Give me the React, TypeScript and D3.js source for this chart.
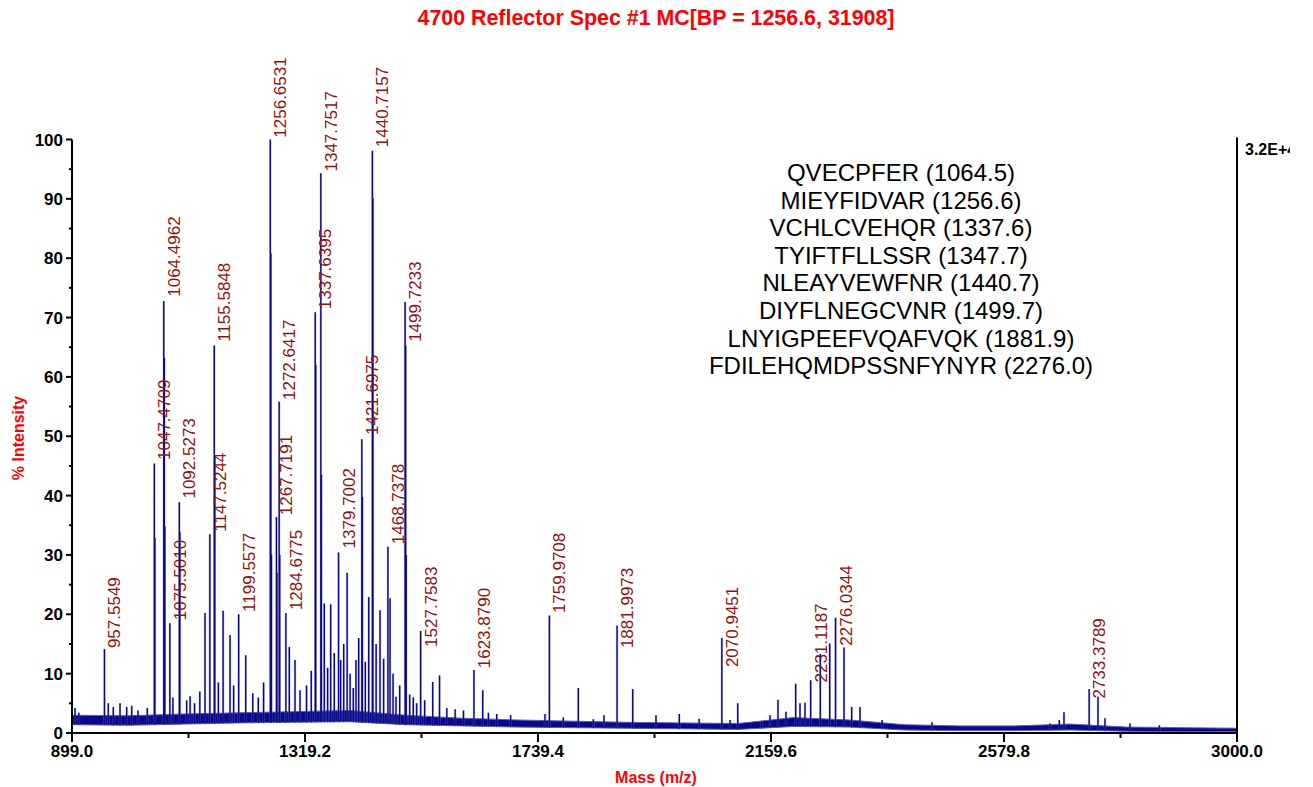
import * as d3 from "d3";

const title = "4700 Reflector Spec #1 MC[BP = 1256.6, 31908]";
const xAxisTitle = "Mass (m/z)";
const yAxisTitle = "% Intensity";
const scaleLabel = "3.2E+4";

const xTickValues = [899.0, 1319.2, 1739.4, 2159.6, 2579.8, 3000.0];
const xMinorTickValues = [1109.1, 1529.3, 1949.5, 2369.7, 2789.9];
const yTickValues = [0, 10, 20, 30, 40, 50, 60, 70, 80, 90, 100];
const yMinorTickValues = [5, 15, 25, 35, 45, 55, 65, 75, 85, 95];

// profile maxima (m/z, % intensity)
const peakMasses = [
  904.4, 911.5, 957.55, 964.5, 973.5, 985.6, 997.6, 1006.7, 1018.0, 1034.8,
  1047.47, 1048.47, 1064.5, 1065.5, 1066.5, 1075.5, 1081.0, 1092.53, 1093.53,
  1105.8, 1112.0, 1120.0, 1129.5, 1138.9, 1147.52, 1155.58, 1156.58, 1163.0,
  1171.5, 1184.0, 1190.5, 1199.56, 1212.3, 1225.0, 1235.0, 1244.5, 1256.65,
  1257.65, 1258.65, 1267.72, 1268.72, 1272.64, 1273.64, 1284.68, 1290.9,
  1301.2, 1310.2, 1322.0, 1330.5, 1337.64, 1338.64, 1347.75, 1348.75, 1354.0,
  1360.0, 1365.5, 1372.0, 1379.7, 1383.5, 1389.0, 1395.2, 1400.5, 1406.3,
  1411.2, 1416.0, 1421.7, 1422.7, 1428.0, 1434.1, 1440.72, 1441.72, 1447.5,
  1454.5, 1461.0, 1468.74, 1472.5, 1478.0, 1483.3, 1490.0, 1499.72, 1500.72,
  1501.72, 1508.0, 1514.5, 1520.5, 1527.76, 1535.0, 1549.5, 1561.8, 1575.0,
  1590.0, 1605.0, 1623.88, 1639.7, 1650.0, 1665.0, 1690.0, 1752.0, 1759.97,
  1785.0, 1812.1, 1839.1, 1858.4, 1882.0, 1910.2, 1952.2, 1994.2, 2030.0,
  2070.95, 2085.7, 2099.6, 2142.8, 2157.8, 2172.2, 2186.6, 2204.1, 2211.9,
  2220.9, 2231.12, 2248.5, 2265.5, 2276.03, 2291.3, 2305.1, 2320.1, 2360.0,
  2450.0, 2662.7, 2679.5, 2688.0, 2733.38, 2749.3, 2761.9, 2807.0, 2860.0,
];
const peakIntensities = [
  4.2, 3.4, 14.1, 5.0, 4.4, 5.0, 4.4, 4.6, 3.8, 4.2,
  45.4, 32.9, 72.8, 63.2, 34.8, 18.5, 6.0, 38.9, 33.9,
  5.5, 6.2, 5.0, 7.0, 20.2, 33.5, 65.3, 46.6, 8.5,
  20.6, 16.5, 8.0, 20.0, 13.1, 6.7, 6.0, 8.5, 100.0,
  80.8, 30.0, 36.4, 27.0, 55.8, 30.0, 20.2, 14.5,
  12.3, 7.2, 8.0, 10.5, 70.9, 62.0, 94.3, 43.5, 21.8,
  11.0, 21.7, 13.5, 30.4, 12.3, 15.0, 27.0, 10.0, 7.6,
  12.3, 16.0, 49.5, 39.8, 12.0, 22.9, 98.1, 90.1, 15.0,
  20.7, 12.5, 31.4, 22.7, 10.0, 6.1, 8.0, 72.6, 65.3,
  30.0, 6.5, 6.0, 5.0, 17.2, 5.5, 8.6, 9.7, 4.2,
  4.0, 3.8, 10.6, 7.2, 3.4, 3.2, 3.0, 3.2, 19.8,
  2.6, 7.6, 2.3, 3.0, 18.1, 7.4, 3.0, 3.2, 2.4,
  16.0, 2.2, 5.0, 1.9, 3.0, 5.6, 3.6, 8.3, 5.0,
  5.1, 8.9, 13.3, 15.1, 19.4, 14.4, 4.4, 4.4, 2.2,
  1.8, 1.6, 2.2, 3.5, 7.4, 6.1, 2.5, 1.6, 1.3,
];

// annotated centroids (m/z, label text, centroid % intensity)
const labelMasses = [
  957.5549, 1047.4709, 1064.4962, 1075.501, 1092.5273, 1147.5244, 1155.5848,
  1199.5577, 1256.6531, 1267.7191, 1272.6417, 1284.6775, 1337.6395, 1347.7517,
  1379.7002, 1421.6975, 1440.7157, 1468.7378, 1499.7233, 1527.7583, 1623.879,
  1759.9708, 1881.9973, 2070.9451, 2231.1187, 2276.0344, 2733.3789,
];
const labelTexts = [
  "957.5549", "1047.4709", "1064.4962", "1075.5010", "1092.5273", "1147.5244",
  "1155.5848", "1199.5577", "1256.6531", "1267.7191", "1272.6417", "1284.6775",
  "1337.6395", "1347.7517", "1379.7002", "1421.6975", "1440.7157", "1468.7378",
  "1499.7233", "1527.7583", "1623.8790", "1759.9708", "1881.9973", "2070.9451",
  "2231.1187", "2276.0344", "2733.3789",
];
const labelHeights = [
  13.8, 45.5, 73.0, 18.5, 39.0, 33.4, 65.4, 19.9, 99.8, 36.2, 55.6, 20.2,
  70.9, 94.1, 30.6, 49.7, 98.2, 31.3, 65.4, 14.0, 10.4, 19.7, 13.8, 10.6,
  8.0, 14.2, 5.3,
];

// noise band of the baseline (m/z, low %, high %)
const baselineMasses = [
  899, 1000, 1100, 1200, 1300, 1400, 1500, 1600, 1700, 1800, 1900, 2000, 2100,
  2200, 2300, 2400, 2500, 2600, 2700, 2800, 2900, 3000,
];
const baselineLow = [
  1.4, 1.3, 1.5, 1.7, 1.8, 1.9, 1.4, 1.2, 1.0, 0.9, 0.8, 0.7, 0.6, 1.1, 1.0,
  0.5, 0.4, 0.4, 0.5, 0.3, 0.2, 0.2,
];
const baselineHigh = [
  3.0, 2.9, 3.2, 3.4, 3.6, 3.8, 3.0, 2.5, 2.2, 2.0, 1.8, 1.7, 1.6, 2.6, 2.2,
  1.4, 1.2, 1.2, 1.5, 1.0, 0.9, 0.8,
];

const peptideNames = [
  "QVECPFER", "MIEYFIDVAR", "VCHLCVEHQR", "TYIFTFLLSSR", "NLEAYVEWFNR",
  "DIYFLNEGCVNR", "LNYIGPEEFVQAFVQK", "FDILEHQMDPSSNFYNYR",
];
const peptideMasses = [1064.5, 1256.6, 1337.6, 1347.7, 1440.7, 1499.7, 1881.9, 2276.0];

const W = 1313;
const H = 787;
const left = 72;
const right = 1237;
const top = 139.5;
const bottom = 733;
const font = "'Liberation Sans', Arial, Helvetica, sans-serif";
const navy = "#0a0a88";

export default function App() {
  const x = d3.scaleLinear().domain([899, 3000]).range([left, right]);
  const y = d3.scaleLinear().domain([0, 100]).range([bottom, top]);
  const baseLow = d3.scaleLinear().domain(baselineMasses).range(baselineLow);

  const band = d3
    .area<number>()
    .x((m) => x(m))
    .y0((m, i) => y(baselineLow[i]))
    .y1((m, i) => y(baselineHigh[i]))(baselineMasses);

  const sticks = peakMasses
    .map((m, i) => `M${x(m)},${y(baseLow(m))}L${x(m)},${y(peakIntensities[i])}`)
    .join("");

  return (
    <svg
      width={W}
      height={H}
      style={{ position: "absolute", left: 0, top: 0, background: "#fff" }}
      fontFamily={font}
    >
      <defs>
        <clipPath id="pageClip">
          <rect x={0} y={0} width={1290} height={H} />
        </clipPath>
      </defs>

      <text x={656} y={25} textAnchor="middle" fontSize={21.4} fontWeight="bold" fill="#ff0000">
        {title}
      </text>

      {/* spectrum */}
      <path d={band ?? ""} fill={navy} stroke="#5c5cb8" strokeWidth={1} />
      <path d={sticks} stroke="#7a7ac8" strokeWidth={2.4} fill="none" opacity={0.45} />
      <path d={sticks} stroke={navy} strokeWidth={1.4} fill="none" />

      {/* peak labels */}
      {labelMasses.map((m, i) => (
        <text
          key={labelTexts[i]}
          transform={`translate(${x(m) + 16},${y(labelHeights[i]) - 3}) rotate(-90)`}
          fontSize={17}
          fill="#8e1212"
        >
          {labelTexts[i]}
        </text>
      ))}

      {/* axes */}
      <g stroke="#000" strokeWidth={2}>
        <line x1={left} x2={left} y1={top} y2={bottom + 1} />
        <line x1={right} x2={right} y1={top - 2} y2={bottom + 1} />
        <line x1={left - 1} x2={right + 1} y1={bottom} y2={bottom} />
        {yTickValues.map((v) => (
          <line key={"yt" + v} x1={left - 6} x2={left} y1={y(v)} y2={y(v)} />
        ))}
        {yMinorTickValues.map((v) => (
          <line key={"ym" + v} x1={left - 3} x2={left} y1={y(v)} y2={y(v)} />
        ))}
        {xTickValues.map((v) => (
          <line key={"xt" + v} x1={x(v)} x2={x(v)} y1={bottom} y2={bottom + 9} />
        ))}
        {xMinorTickValues.map((v) => (
          <line key={"xm" + v} x1={x(v)} x2={x(v)} y1={bottom} y2={bottom + 5} />
        ))}
      </g>
      <g fontSize={17} fontWeight="bold" fill="#000">
        {yTickValues.map((v) => (
          <text key={"yl" + v} x={left - 9} y={y(v) + 6} textAnchor="end">
            {v}
          </text>
        ))}
        {xTickValues.map((v) => (
          <text key={"xl" + v} x={x(v)} y={757} textAnchor="middle">
            {v.toFixed(1)}
          </text>
        ))}
      </g>
      <text
        x={1245}
        y={155}
        fontSize={16}
        fontWeight="bold"
        fill="#000"
        clipPath="url(#pageClip)"
      >
        {scaleLabel}
      </text>

      <text x={656} y={783} textAnchor="middle" fontSize={16} fontWeight="bold" fill="#ff0000">
        {xAxisTitle}
      </text>
      <text
        transform={`translate(24,438) rotate(-90)`}
        textAnchor="middle"
        fontSize={16}
        fontWeight="bold"
        fill="#ff0000"
      >
        {yAxisTitle}
      </text>

      {/* identified peptides */}
      <g fontSize={24} fill="#000" textAnchor="middle">
        {peptideNames.map((p, i) => (
          <text key={p} x={901} y={181 + i * 27.6}>
            {`${p} (${peptideMasses[i].toFixed(1)})`}
          </text>
        ))}
      </g>
    </svg>
  );
}
